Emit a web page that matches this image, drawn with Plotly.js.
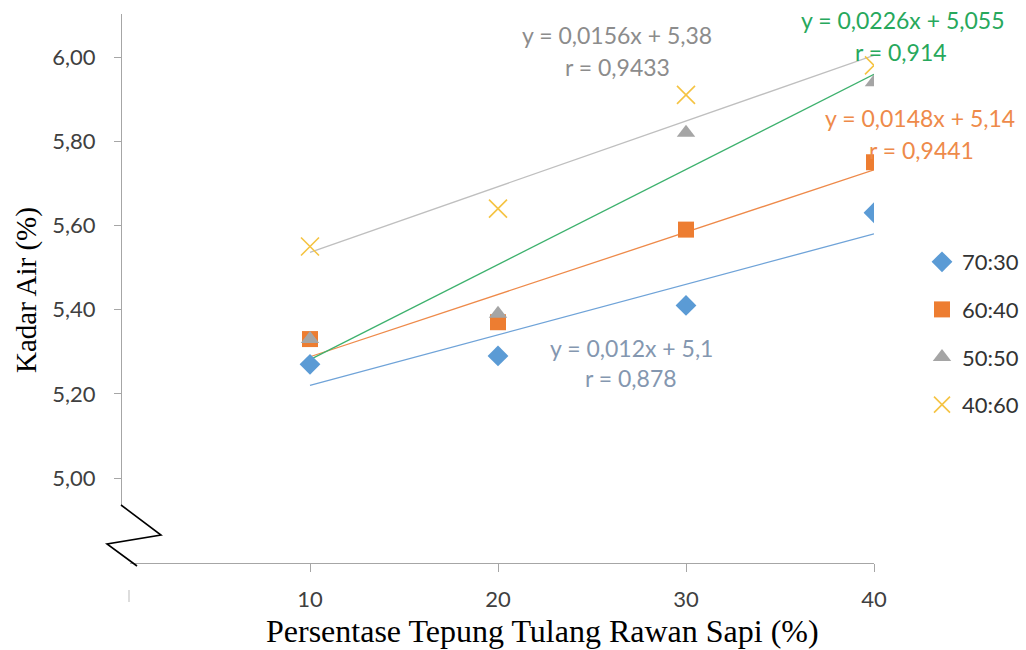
<!DOCTYPE html>
<html>
<head>
<meta charset="utf-8">
<script src="https://cdn.plot.ly/plotly-3.0.1.min.js"></script>
<style>
  html, body { margin: 0; padding: 0; background: #fff; }
  #chart { width: 1026px; height: 650px; }
</style>
</head>
<body>
<div id="chart"></div>
<script>
// Flour percentage (x) and moisture content (%) for each ratio
const persentase = [10, 20, 30, 40];
const seriesNames = ['70:30', '60:40', '50:50', '40:60'];
const kadar7030 = [5.27, 5.29, 5.41, 5.63];
const kadar6040 = [5.33, 5.37, 5.59, 5.75];
const kadar5050 = [5.33, 5.39, 5.82, 5.94];
const kadar4060 = [5.55, 5.64, 5.91, 5.98];

// Linear trendlines: slope and intercept per series (same order)
const slopes = [0.012, 0.0148, 0.0226, 0.0156];
const intercepts = [5.1, 5.14, 5.055, 5.38];
const rValues = ['0,878', '0,9441', '0,914', '0,9433'];
const equationLabels = [
  'y = 0,012x + 5,1',
  'y = 0,0148x + 5,14',
  'y = 0,0226x + 5,055',
  'y = 0,0156x + 5,38'
];

const yTicks = [5.0, 5.2, 5.4, 5.6, 5.8, 6.0];
const xTicks = [10, 20, 30, 40];

const W = 1026, H = 650;
const px = v => v / W;
const py = v => 1 - v / H;

const markerStyles = [
  { symbol: 'diamond', size: 16, color: '#5B9BD5' },
  { symbol: 'square', size: 16, color: '#ED7D31' },
  { symbol: 'triangle-up', size: 16, color: '#A5A5A5' },
  { symbol: 'x-thin-open', size: 18, color: '#F5C342', line: { color: '#F5C342', width: 1.6 } }
];
const trendColors = ['#6FA3D8', '#EE8A4A', '#3DB16D', '#BFBFBF'];
const labelColors = ['#8497B0', '#EE8A4A', '#27A85C', '#8C8C8C'];
const seriesValues = [kadar7030, kadar6040, kadar5050, kadar4060];

const traces = [];

// trendlines first so the markers sit above them
const xEnds = [persentase[0], persentase[persentase.length - 1]];
slopes.forEach((m, i) => {
  traces.push({
    x: xEnds,
    y: xEnds.map(x => m * x + intercepts[i]),
    mode: 'lines',
    line: { color: trendColors[i], width: 1.3 },
    showlegend: false,
    hoverinfo: 'skip'
  });
});

seriesValues.forEach((vals, i) => {
  const ms = markerStyles[i];
  traces.push({
    x: persentase,
    y: vals,
    name: seriesNames[i],
    legendgroup: 'g' + i,
    mode: 'markers',
    marker: {
      symbol: ms.symbol,
      size: ms.size,
      color: ms.color,
      line: ms.line || { width: 0 }
    }
  });
});

// equation and r labels (text positions in pixels)
const eqPos = [
  { x: 631, y: 348, rx: 631, ry: 378 },
  { x: 920, y: 118, rx: 921, ry: 150 },
  { x: 902, y: 20, rx: 901, ry: 52 },
  { x: 617, y: 35, rx: 617, ry: 67 }
];
const labelFont = 'Lato, sans-serif';
const annotations = [];
eqPos.forEach((p, i) => {
  annotations.push({
    xref: 'paper', yref: 'paper', x: px(p.x), y: py(p.y),
    text: equationLabels[i], showarrow: false,
    xanchor: 'center', yanchor: 'middle',
    font: { family: labelFont, size: 23, color: labelColors[i] }
  });
  annotations.push({
    xref: 'paper', yref: 'paper', x: px(p.rx), y: py(p.ry),
    text: 'r = ' + rValues[i], showarrow: false,
    xanchor: 'center', yanchor: 'middle',
    font: { family: labelFont, size: 23, color: labelColors[i] }
  });
});

// axis titles
const serif = '"Liberation Serif", "Times New Roman", serif';
annotations.push({
  xref: 'paper', yref: 'paper', x: px(26), y: py(290),
  text: 'Kadar Air (%)', textangle: -90, showarrow: false,
  xanchor: 'center', yanchor: 'middle',
  font: { family: serif, size: 29, color: '#000' }
});
annotations.push({
  xref: 'paper', yref: 'paper', x: px(542), y: py(631),
  text: 'Persentase Tepung Tulang Rawan Sapi (%)', showarrow: false,
  xanchor: 'center', yanchor: 'middle',
  font: { family: serif, size: 32, color: '#000' }
});

// broken-axis zigzag and the stray tick mark at the origin
const zig = [[121, 505], [161, 535], [107, 544], [137, 566]];
const zigPath = 'M ' + zig.map(p => px(p[0]) + ',' + py(p[1])).join(' L ');
const shapes = [
  { type: 'path', xref: 'paper', yref: 'paper', path: zigPath,
    line: { color: '#000', width: 1.6 } },
  { type: 'line', xref: 'paper', yref: 'paper',
    x0: px(129), x1: px(129), y0: py(590), y1: py(602),
    line: { color: '#BBBBBB', width: 1 } }
];

// axis extents: y axis runs from pixel row 14 to 505, x axis from column 130 to 874
const yPerPx = 1 / 421;
const yTop = 6 + (57 - 14) * yPerPx;
const yBot = 5 - (505 - 478) * yPerPx;
const xPerPx = 10 / 188;
const xLeft = 10 - (310 - 130) * xPerPx;

const tickFont = { family: 'Lato, sans-serif', size: 22, color: '#404040' };

const layout = {
  width: W, height: H,
  margin: { l: 0, r: 0, t: 0, b: 0, autoexpand: false },
  paper_bgcolor: '#fff',
  plot_bgcolor: 'rgba(0,0,0,0)',
  separators: ',.',
  showlegend: true,
  font: { family: 'Lato, sans-serif', color: '#404040' },
  xaxis: {
    domain: [px(130), px(874)],
    anchor: 'free', position: py(563),
    range: [xLeft, 40],
    tickvals: xTicks,
    ticks: 'outside', ticklen: 8, tickcolor: '#A6A6A6', tickwidth: 1,
    showline: true, linecolor: '#A6A6A6', linewidth: 1.2,
    showgrid: false, zeroline: false,
    ticklabelstandoff: 8,
    tickfont: tickFont
  },
  yaxis: {
    domain: [py(505), py(14)],
    anchor: 'free', position: px(121),
    range: [yBot, yTop],
    tickvals: yTicks, tickformat: '.2f',
    ticks: 'outside', ticklen: 7, tickcolor: '#A6A6A6', tickwidth: 1,
    showline: true, linecolor: '#A6A6A6', linewidth: 1.2,
    showgrid: false, zeroline: false,
    ticklabelstandoff: 14,
    tickfont: tickFont
  },
  legend: {
    x: px(922), y: py(241), xanchor: 'left', yanchor: 'top',
    traceorder: 'grouped', tracegroupgap: 16,
    itemwidth: 30,
    font: { family: 'Lato, sans-serif', size: 22, color: '#333333' },
    bgcolor: 'rgba(0,0,0,0)'
  },
  annotations: annotations,
  shapes: shapes
};

Plotly.newPlot('chart', traces, layout, { displayModeBar: false, staticPlot: true });
</script>
</body>
</html>
